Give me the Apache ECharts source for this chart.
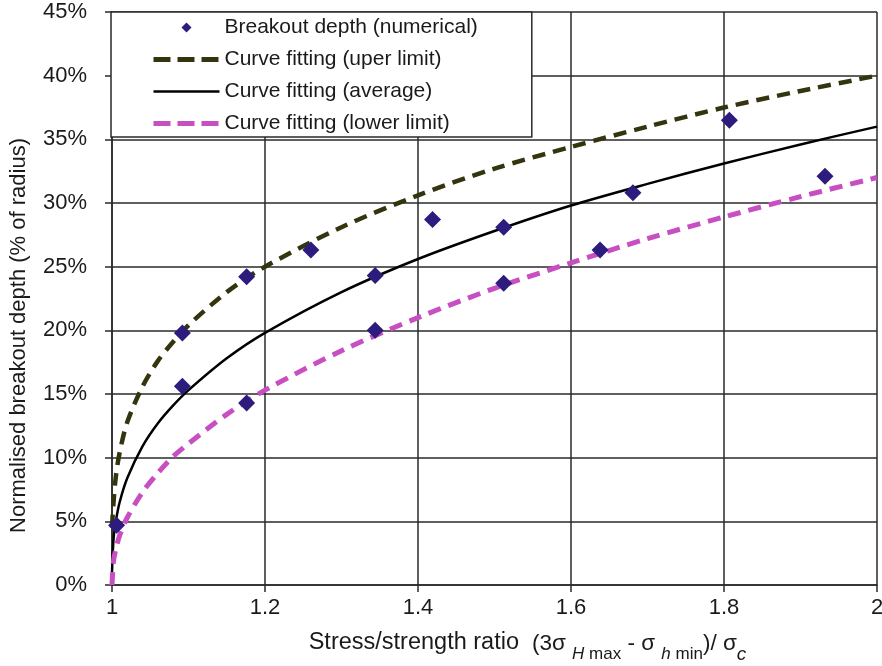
<!DOCTYPE html>
<html>
<head>
<meta charset="utf-8">
<script src="https://cdn.jsdelivr.net/npm/echarts@6/dist/echarts.min.js"></script>
<style>
  html, body { margin: 0; padding: 0; background: #fff; }
  #chart { width: 882px; height: 666px; }
</style>
</head>
<body>
<div id="chart"></div>
<script>
// Numerical breakout depths: [stress/strength ratio, depth in % of radius]
const breakoutPoints = [
  [1.006, 4.7], [1.092, 19.8], [1.092, 15.6], [1.176, 24.2], [1.176, 14.3],
  [1.260, 26.3], [1.344, 24.3], [1.344, 20.0], [1.419, 28.7], [1.512, 28.1],
  [1.512, 23.7], [1.638, 26.3], [1.681, 30.8], [1.807, 36.5], [1.932, 32.1]
];

// Fitted curves sampled along the ratio axis
const fitRatio   = [1.0, 1.002, 1.005, 1.01, 1.02, 1.04, 1.06, 1.08, 1.1, 1.15, 1.2, 1.3, 1.4, 1.5, 1.6, 1.7, 1.8, 1.9, 2.0];
const fitUpper   = [4.5, 6.5, 8.5, 10.4, 12.8, 15.6, 17.6, 19.1, 20.4, 23.0, 25.0, 28.1, 30.6, 32.7, 34.4, 36.0, 37.5, 38.8, 40.0];
const fitAverage = [1.0, 3.6, 5.0, 6.5, 8.4, 10.9, 12.7, 14.1, 15.3, 17.8, 19.8, 23.0, 25.6, 27.8, 29.8, 31.5, 33.1, 34.6, 36.0];
const fitLower   = [0.0, 1.9, 2.8, 3.9, 5.3, 7.3, 8.8, 10.1, 11.1, 13.4, 15.3, 18.4, 21.0, 23.3, 25.3, 27.2, 28.9, 30.5, 32.0];

const seriesNames = [
  'Breakout depth (numerical)',
  'Curve fitting (uper limit)',
  'Curve fitting (average)',
  'Curve fitting (lower limit)'
];

const pair = (ys) => fitRatio.map((x, i) => [x, ys[i]]);

const FONT = 'Liberation Sans, Arial, Helvetica, sans-serif';
const INK = '#1a1a1a';
const GRID = '#2a2a2a';
const UPPER = '#34350f';
const LOWER = '#c74fc2';
const POINT = '#2d1b7e';

// legend rows for the fitted curves show only the stroke, no marker
const hiddenMarker = { opacity: 0, color: 'rgba(0,0,0,0)', borderWidth: 0 };

const chart = echarts.init(document.getElementById('chart'), null, { renderer: 'canvas' });

chart.setOption({
  backgroundColor: '#ffffff',
  animation: false,
  grid: { left: 112, right: 5, top: 12, bottom: 81, containLabel: false, outerBoundsMode: 'none' },
  legend: {
    orient: 'vertical',
    left: 111,
    top: 12,
    padding: [5, 54, 3, 40],
    itemWidth: 66,
    itemHeight: 10,
    itemGap: 11,
    symbolKeepAspect: true,
    backgroundColor: '#ffffff',
    borderColor: GRID,
    borderWidth: 1.5,
    borderRadius: 0,
    textStyle: { fontFamily: FONT, fontSize: 21, color: INK },
    data: [
      { name: seriesNames[0], icon: 'path://M5,0 L10,5 L5,10 L0,5 Z' },
      { name: seriesNames[1], itemStyle: hiddenMarker, lineStyle: { color: UPPER, width: 5, type: [17, 7] } },
      { name: seriesNames[2], itemStyle: hiddenMarker, lineStyle: { color: '#000', width: 2.5, type: 'solid' } },
      { name: seriesNames[3], itemStyle: hiddenMarker, lineStyle: { color: LOWER, width: 5, type: [17, 7] } }
    ]
  },
  xAxis: {
    type: 'value',
    min: 1,
    max: 2,
    interval: 0.2,
    axisLine: { show: true, lineStyle: { color: GRID, width: 1.5 } },
    axisTick: { show: true, length: 7, lineStyle: { color: GRID, width: 1.5 } },
    splitLine: { show: true, lineStyle: { color: GRID, width: 1.5 } },
    axisLabel: { fontFamily: FONT, fontSize: 22, color: INK, margin: 12 },
    name: '{a|Stress/strength ratio}{g| }{b|(3σ }{si|H}{s| max}{b| - σ }{si|h}{s| min}{b|)/ σ}{sc|c}',
    nameLocation: 'middle',
    nameGap: 46,
    nameTextStyle: {
      fontFamily: FONT,
      color: INK,
      padding: [0, 0, 0, 66],
      rich: {
        a:  { fontFamily: FONT, fontSize: 23.5, color: INK, lineHeight: 28, verticalAlign: 'top' },
        g:  { fontFamily: FONT, fontSize: 12, lineHeight: 28, width: 13, verticalAlign: 'top' },
        b:  { fontFamily: FONT, fontSize: 22.5, color: INK, lineHeight: 28, verticalAlign: 'top', padding: [1, 0, 0, 0] },
        s:  { fontFamily: FONT, fontSize: 17, color: INK, lineHeight: 17, verticalAlign: 'top', padding: [15, 0, 0, 0] },
        si: { fontFamily: FONT, fontSize: 17, fontStyle: 'italic', color: INK, lineHeight: 17, verticalAlign: 'top', padding: [15, 0, 0, 0] },
        sc: { fontFamily: FONT, fontSize: 19, fontStyle: 'italic', color: INK, lineHeight: 19, verticalAlign: 'top', padding: [14, 0, 0, 0] }
      }
    }
  },
  yAxis: {
    type: 'value',
    min: 0,
    max: 45,
    interval: 5,
    axisLine: { show: true, lineStyle: { color: GRID, width: 1.5 } },
    axisTick: { show: true, length: 7, lineStyle: { color: GRID, width: 1.5 } },
    splitLine: { show: true, lineStyle: { color: GRID, width: 1.5 } },
    axisLabel: { fontFamily: FONT, fontSize: 22, color: INK, margin: 25, formatter: '{value}%' },
    name: 'Normalised breakout depth (% of radius)',
    nameLocation: 'middle',
    nameRotate: 90,
    nameGap: 82,
    nameTextStyle: { fontFamily: FONT, fontSize: 22, color: INK, padding: [0, 74, 0, 0] }
  },
  series: [
    {
      name: seriesNames[0],
      type: 'scatter',
      symbol: 'diamond',
      symbolSize: 17,
      z: 5,
      itemStyle: { color: POINT, opacity: 1 },
      data: breakoutPoints
    },
    {
      name: seriesNames[1],
      type: 'line',
      symbol: 'none',
      smooth: 0.3,
      z: 3,
      lineStyle: { color: UPPER, width: 4.5, type: [13, 8] },
      itemStyle: { color: UPPER },
      data: pair(fitUpper)
    },
    {
      name: seriesNames[2],
      type: 'line',
      symbol: 'none',
      smooth: 0.3,
      z: 3,
      lineStyle: { color: '#000000', width: 2.5 },
      itemStyle: { color: '#000000' },
      data: pair(fitAverage)
    },
    {
      name: seriesNames[3],
      type: 'line',
      symbol: 'none',
      smooth: 0.3,
      z: 3,
      lineStyle: { color: LOWER, width: 5, type: [13, 8] },
      itemStyle: { color: LOWER },
      data: pair(fitLower)
    }
  ]
});
</script>
</body>
</html>
